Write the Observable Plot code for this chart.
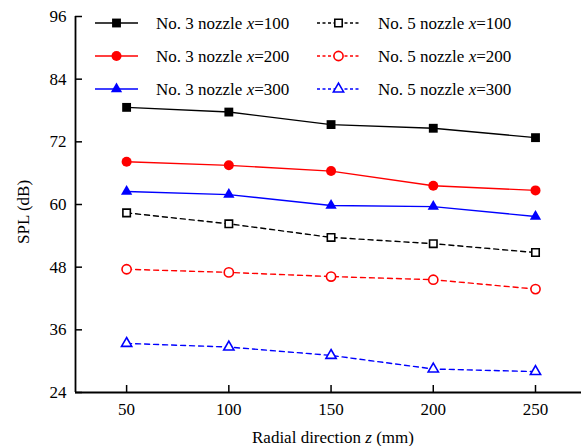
<!DOCTYPE html>
<html>
<head>
<meta charset="utf-8">
<script src="https://cdn.jsdelivr.net/npm/d3@7"></script>
<script src="https://cdn.jsdelivr.net/npm/@observablehq/plot@0.6"></script>
<style>
  body { margin: 0; background: #fff; }
  #chart { position: relative; width: 581px; height: 446px; }
</style>
</head>
<body>
<div id="chart"></div>
<script>
// Radial measurement positions (mm)
const radial = [50, 100, 150, 200, 250];

// SPL (dB) along the radial direction for each nozzle / axial distance
const nozzle3x100 = [78.6, 77.7, 75.3, 74.6, 72.8];
const nozzle3x200 = [68.2, 67.5, 66.4, 63.6, 62.7];
const nozzle3x300 = [62.5, 61.9, 59.8, 59.6, 57.7];
const nozzle5x100 = [58.4, 56.3, 53.7, 52.5, 50.8];
const nozzle5x200 = [47.6, 47.0, 46.2, 45.6, 43.8];
const nozzle5x300 = [33.4, 32.7, 31.1, 28.5, 28.0];

// Legend text parts
const nozzleNames = ["No. 3", "No. 3", "No. 3", "No. 5", "No. 5", "No. 5"];
const axialDistances = ["100", "200", "300", "100", "200", "300"];

// Tick values
const yTicks = [24, 36, 48, 60, 72, 84, 96];
const xTicks = [50, 100, 150, 200, 250];

const values = [nozzle3x100, nozzle3x200, nozzle3x300, nozzle5x100, nozzle5x200, nozzle5x300];

// Per-series drawing style
const colors = ["#000000", "#ff0000", "#0000ff", "#000000", "#ff0000", "#0000ff"];
const symbols = ["square", "circle", "triangle", "square", "circle", "triangle"];
const solid = [true, true, true, false, false, false];
const radii = {square: 5, circle: 5, triangle: 4.2};
const openRadii = {square: 4.2, circle: 4.6, triangle: 3.8};

const series = values.map((v, i) => ({
  key: `${nozzleNames[i]} x=${axialDistances[i]}`,
  rows: radial.map((z, j) => ({z, spl: v[j]})),
  color: colors[i],
  symbol: symbols[i],
  solid: solid[i]
}));

const font = "'Liberation Serif', 'Times New Roman', serif";
const fontSize = 17;

const marks = [];
for (const s of series) {
  marks.push(Plot.line(s.rows, {
    x: "z", y: "spl", stroke: s.color, strokeWidth: 1.4,
    strokeDasharray: s.solid ? null : "5,4"
  }));
}
for (const s of series) {
  marks.push(Plot.dot(s.rows, s.solid
    ? {x: "z", y: "spl", symbol: () => s.symbol, fill: s.color, stroke: "none", r: radii[s.symbol]}
    : {x: "z", y: "spl", symbol: () => s.symbol, fill: "white", stroke: s.color, strokeWidth: 1.6, r: openRadii[s.symbol]}
  ));
}

const chart = Plot.plot({
  width: 581,
  height: 446,
  marginLeft: 75,
  marginRight: 0,
  marginTop: 16,
  marginBottom: 54,
  style: {fontFamily: font, fontSize: `${fontSize}px`, color: "#000", background: "#fff"},
  x: {domain: [25, 272.5]},
  y: {domain: [24, 96]},
  symbol: {type: "identity"},
  marks: [
    ...marks,
    // tick labels
    Plot.axisY({ticks: yTicks, tickSize: 0, tickPadding: 9, label: null, fontSize}),
    Plot.axisX({ticks: xTicks, tickSize: 0, tickPadding: 10, label: null, fontSize}),
    // inward tick marks
    Plot.axisY({ticks: yTicks, tickSize: -7, tickFormat: () => "", label: null, strokeWidth: 1.5}),
    Plot.axisX({ticks: xTicks, tickSize: -7, tickFormat: () => "", label: null, strokeWidth: 1.5}),
    // axis lines
    Plot.ruleX([25], {strokeWidth: 1.8}),
    Plot.ruleY([24], {strokeWidth: 1.8})
  ]
});

document.getElementById("chart").appendChild(chart);

const svg = d3.select(chart);

// Axis titles
svg.append("text")
  .attr("transform", "translate(29,212) rotate(-90)")
  .attr("text-anchor", "middle")
  .attr("font-family", font).attr("font-size", fontSize)
  .text("SPL (dB)");

const xl = svg.append("text")
  .attr("x", 333).attr("y", 443)
  .attr("text-anchor", "middle")
  .attr("font-family", font).attr("font-size", fontSize);
xl.append("tspan").text("Radial direction ");
xl.append("tspan").attr("font-style", "italic").text("z");
xl.append("tspan").text(" (mm)");

// Legend: two columns of three entries
const symbolTypes = {square: d3.symbolSquare, circle: d3.symbolCircle, triangle: d3.symbolTriangle};
const legend = svg.append("g")
  .attr("font-family", font).attr("font-size", fontSize)
  .attr("text-anchor", "start");
series.forEach((s, i) => {
  const col = Math.floor(i / 3), row = i % 3;
  const x0 = col === 0 ? 95 : 317;
  const y0 = 23 + row * 33;
  const g = legend.append("g").attr("transform", `translate(${x0},${y0})`);
  g.append("line").attr("x1", 0).attr("x2", 43).attr("y1", 0).attr("y2", 0)
    .attr("stroke", s.color).attr("stroke-width", 1.4)
    .attr("stroke-dasharray", s.solid ? null : "3,2.5");
  const r = s.solid ? radii[s.symbol] : openRadii[s.symbol];
  g.append("path")
    .attr("transform", "translate(21.5,0)")
    .attr("d", d3.symbol(symbolTypes[s.symbol], Math.PI * r * r)())
    .attr("fill", s.solid ? s.color : "white")
    .attr("stroke", s.solid ? "none" : s.color)
    .attr("stroke-width", 1.6);
  const t = g.append("text").attr("x", 61).attr("y", 6).attr("text-anchor", "start");
  t.append("tspan").text(`${nozzleNames[i]} nozzle `);
  t.append("tspan").attr("font-style", "italic").text("x");
  t.append("tspan").text(`=${axialDistances[i]}`);
});
</script>
</body>
</html>
